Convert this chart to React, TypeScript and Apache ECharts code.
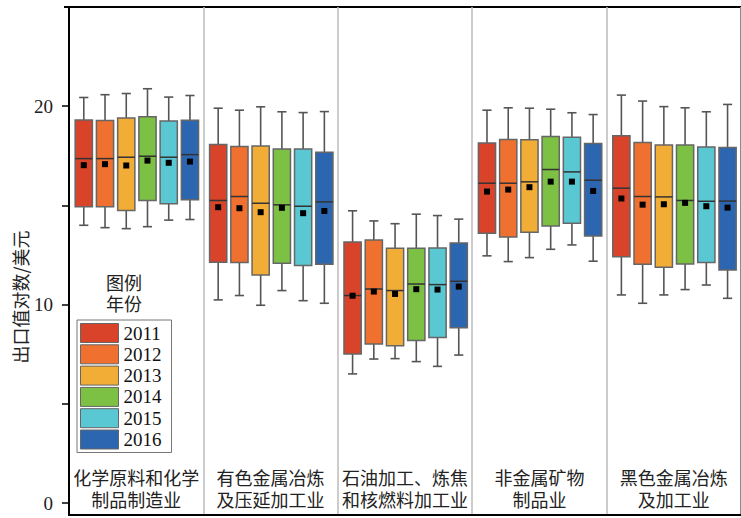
import React, { useEffect, useRef } from "react";
import * as echarts from "echarts";

const categories = [
  "化学原料和化学\n制品制造业",
  "有色金属冶炼\n及压延加工业",
  "石油加工、炼焦\n和核燃料加工业",
  "非金属矿物\n制品业",
  "黑色金属冶炼\n及加工业",
];
const years = ["2011", "2012", "2013", "2014", "2015", "2016"];
const yearColors = ["#d9432a", "#f0702f", "#f2ad36", "#7cc143", "#5ac8d3", "#2c65b0"];

// rows = years, columns = categories
const whiskerHigh = [
  [20.44, 19.9, 14.73, 19.8, 20.56],
  [20.58, 19.8, 14.22, 19.92, 20.26],
  [20.64, 19.97, 14.08, 19.9, 19.98],
  [20.88, 19.72, 14.56, 19.85, 19.92],
  [20.46, 19.68, 14.49, 19.67, 19.72],
  [20.54, 19.73, 14.31, 19.58, 20.09],
];
const quartile3 = [
  [19.31, 18.07, 13.16, 18.15, 18.51],
  [19.28, 17.97, 13.26, 18.32, 18.17],
  [19.41, 18.0, 12.84, 18.31, 18.04],
  [19.47, 17.84, 12.84, 18.47, 18.05],
  [19.25, 17.84, 12.86, 18.44, 17.94],
  [19.29, 17.68, 13.11, 18.12, 17.92],
];
const medians = [
  [17.36, 15.25, 10.46, 16.12, 15.87],
  [17.36, 15.45, 10.79, 16.12, 15.45],
  [17.43, 15.11, 10.71, 16.19, 15.43],
  [17.48, 15.03, 11.04, 16.81, 15.25],
  [17.43, 14.96, 11.01, 16.69, 15.21],
  [17.56, 15.18, 11.18, 16.27, 15.22],
];
const means = [
  [17.03, 14.91, 10.45, 15.7, 15.35],
  [17.08, 14.86, 10.66, 15.8, 15.04],
  [17.01, 14.66, 10.54, 15.92, 15.06],
  [17.26, 14.88, 10.78, 16.2, 15.13],
  [17.15, 14.61, 10.76, 16.2, 14.96],
  [17.21, 14.72, 10.91, 15.73, 14.89],
];
const quartile1 = [
  [14.94, 12.14, 7.51, 13.6, 12.42],
  [14.93, 12.12, 8.02, 13.41, 12.04],
  [14.74, 11.5, 7.93, 13.65, 11.89],
  [15.25, 12.09, 8.2, 13.97, 12.05],
  [15.08, 11.97, 8.34, 14.1, 12.12],
  [15.29, 12.04, 8.84, 13.46, 11.75],
];
const whiskerLow = [
  [14.0, 10.24, 6.51, 12.46, 10.49],
  [13.88, 10.46, 7.26, 12.17, 10.07],
  [13.83, 9.97, 7.28, 12.37, 10.49],
  [13.93, 10.71, 7.13, 12.79, 10.76],
  [14.26, 10.2, 6.89, 13.01, 10.99],
  [14.29, 10.07, 7.46, 12.19, 10.32],
];
const yTickValues = [0, 5, 10, 15, 20];
const yLabelValues = [0, 10, 20];

const serifFont = "'Liberation Serif', 'Times New Roman', serif";
const cjkFont = "'Noto Sans CJK SC', sans-serif";

export default function App() {
  const ref = useRef<HTMLDivElement>(null);
  useEffect(() => {
    document.body.style.margin = "0";
    if (!ref.current) return;
    const chart = echarts.init(ref.current, undefined, { renderer: "svg" });

    const renderItem = (params: any, api: any) => {
      const cat = api.value(0);
      const bw = api.size([1, 0])[0];
      const cx = api.coord([cat, 0])[0] + (params.seriesIndex - 2.5) * bw * 0.158 + bw * 0.005;
      const yv = (v: number) => api.coord([cat, v])[1];
      const yLow = yv(api.value(1));
      const yQ1 = yv(api.value(2));
      const yMed = yv(api.value(3));
      const yQ3 = yv(api.value(4));
      const yHigh = yv(api.value(5));
      const yMean = yv(api.value(6));
      const w = bw * 0.128;
      const cap = bw * 0.068;
      const color = api.visual("color");
      const ls = { stroke: "#555", lineWidth: 1.6 };
      return {
        type: "group",
        children: [
          { type: "line", shape: { x1: cx, y1: yHigh, x2: cx, y2: yQ3 }, style: ls },
          { type: "line", shape: { x1: cx, y1: yQ1, x2: cx, y2: yLow }, style: ls },
          { type: "line", shape: { x1: cx - cap / 2, y1: yHigh, x2: cx + cap / 2, y2: yHigh }, style: ls },
          { type: "line", shape: { x1: cx - cap / 2, y1: yLow, x2: cx + cap / 2, y2: yLow }, style: ls },
          {
            type: "rect",
            shape: { x: cx - w / 2, y: yQ3, width: w, height: yQ1 - yQ3 },
            style: { fill: color, stroke: "#666", lineWidth: 1.5 },
          },
          {
            type: "line",
            shape: { x1: cx - w / 2, y1: yMed, x2: cx + w / 2, y2: yMed },
            style: { stroke: "#333", lineWidth: 1.5 },
          },
          {
            type: "rect",
            shape: { x: cx - 3, y: yMean - 3, width: 6, height: 6 },
            style: { fill: "#000" },
          },
        ],
      };
    };

    const series = years.map((yr, i) => ({
      type: "custom",
      name: yr,
      itemStyle: { color: yearColors[i] },
      renderItem,
      encode: { x: 0, y: [1, 2, 3, 4, 5, 6] },
      data: categories.map((_, j) => [
        j,
        whiskerLow[i][j],
        quartile1[i][j],
        medians[i][j],
        quartile3[i][j],
        whiskerHigh[i][j],
        means[i][j],
      ]),
    }));

    chart.setOption({
      animation: false,
      grid: {
        left: 69,
        right: -8,
        top: 7,
        bottom: 3,
        show: true,
        borderColor: "#000",
        borderWidth: 2,
      },
      xAxis: {
        type: "category",
        data: categories,
        boundaryGap: true,
        axisLine: { show: true, onZero: false, lineStyle: { color: "#000", width: 2 } },
        axisTick: { show: false },
        splitLine: { show: true, interval: 0, lineStyle: { color: "#bbb", width: 1.5 } },
        axisLabel: {
          inside: true,
          interval: 0,
          margin: 5,
          fontSize: 18,
          lineHeight: 22,
          fontFamily: cjkFont,
          color: "#222",
        },
      },
      yAxis: {
        type: "value",
        min: -0.6,
        max: 25,
        splitLine: { show: false },
        axisLine: { show: true, onZero: false, lineStyle: { color: "#000", width: 2 } },
        axisTick: {
          show: true,
          customValues: yTickValues,
          length: 7,
          lineStyle: { color: "#000", width: 1.5 },
        },
        axisLabel: {
          customValues: yLabelValues,
          margin: 16,
          fontSize: 19,
          fontFamily: serifFont,
          color: "#222",
        },
      },
      legend: {
        data: years,
        orient: "vertical",
        left: 77,
        top: 320,
        itemWidth: 38,
        itemHeight: 19,
        itemGap: 1.3,
        icon: "rect",
        padding: [3, 10, 3, 3],
        borderColor: "#777",
        borderWidth: 1,
        backgroundColor: "#fff",
        itemStyle: { borderColor: "#666", borderWidth: 1 },
        textStyle: { fontSize: 19, lineHeight: 19, fontFamily: serifFont, color: "#111" },
        selectedMode: false,
      },
      graphic: [
        {
          type: "text",
          x: 20,
          y: 297,
          rotation: Math.PI / 2,
          style: {
            text: "出口值对数/美元",
            font: `18px ${cjkFont}`,
            fill: "#222",
            align: "center",
            verticalAlign: "middle",
          },
        },
        {
          type: "text",
          x: 124,
          y: 282,
          style: {
            text: "图例",
            font: `18px ${cjkFont}`,
            fill: "#222",
            align: "center",
            verticalAlign: "middle",
          },
        },
        {
          type: "text",
          x: 124,
          y: 303,
          style: {
            text: "年份",
            font: `18px ${cjkFont}`,
            fill: "#222",
            align: "center",
            verticalAlign: "middle",
          },
        },
        {
          type: "line",
          shape: { x1: 64, y1: 7, x2: 70, y2: 7 },
          style: { stroke: "#000", lineWidth: 2 },
        },
      ],
      series,
    });
    return () => chart.dispose();
  }, []);
  return <div ref={ref} style={{ width: 741, height: 518 }} />;
}
